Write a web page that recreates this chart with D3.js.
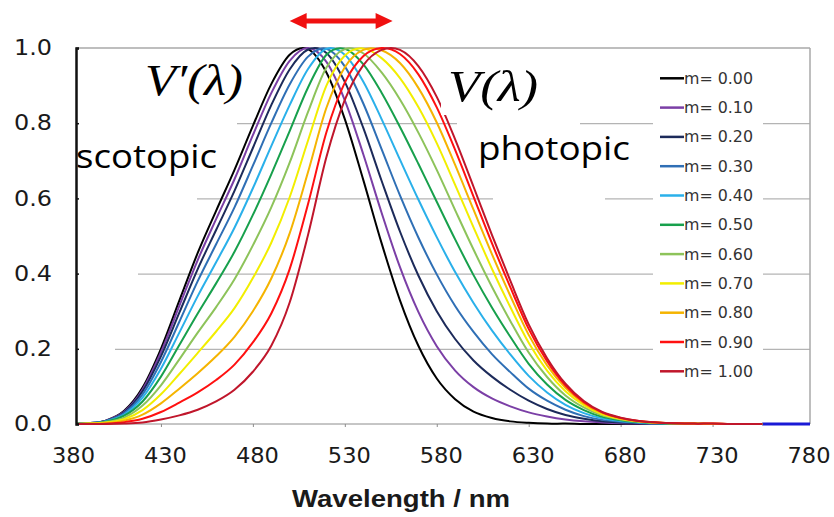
<!DOCTYPE html>
<html>
<head>
<meta charset="utf-8">
<script src="https://cdn.jsdelivr.net/npm/d3@7"></script>
<style>
  body { margin: 0; background: #fff; }
  svg { display: block; }
</style>
</head>
<body>
<div id="chart"></div>
<script>
// wavelengths (nm) of the sampled points
var wavelengths = [380, 390, 400, 410, 420, 430, 440, 450, 460, 470, 480, 490, 500, 510, 520, 530, 540, 550, 560, 570,
  580, 590, 600, 610, 620, 630, 640, 650, 660, 670, 680, 690, 700, 710, 720, 730, 740, 750, 760];

// relative luminous efficiency for each adaptation coefficient m
var m00 = [0.001, 0.002, 0.009, 0.035, 0.097, 0.200, 0.328, 0.455, 0.567, 0.676, 0.793, 0.904, 0.982, 0.997, 0.935, 0.811, 0.650, 0.481, 0.329, 0.208,
  0.121, 0.066, 0.033, 0.016, 0.007, 0.003, 0.001, 0.001, 0, 0, 0, 0, 0, 0, 0, 0, 0, 0, 0];
var m10 = [0.001, 0.002, 0.009, 0.033, 0.092, 0.191, 0.314, 0.436, 0.545, 0.651, 0.768, 0.880, 0.966, 1.000, 0.963, 0.861, 0.718, 0.562, 0.417, 0.298,
  0.207, 0.142, 0.098, 0.068, 0.047, 0.031, 0.020, 0.012, 0.007, 0.004, 0.002, 0.001, 0, 0, 0, 0, 0, 0, 0];
var m20 = [0.001, 0.002, 0.008, 0.031, 0.087, 0.180, 0.296, 0.412, 0.516, 0.620, 0.734, 0.848, 0.943, 0.996, 0.987, 0.910, 0.788, 0.647, 0.512, 0.395,
  0.300, 0.226, 0.169, 0.126, 0.091, 0.062, 0.040, 0.024, 0.014, 0.007, 0.004, 0.002, 0.001, 0, 0, 0, 0, 0, 0];
var m30 = [0.001, 0.002, 0.008, 0.029, 0.079, 0.165, 0.272, 0.380, 0.478, 0.576, 0.687, 0.800, 0.903, 0.977, 0.998, 0.951, 0.853, 0.731, 0.608, 0.496,
  0.398, 0.314, 0.245, 0.186, 0.138, 0.094, 0.062, 0.038, 0.021, 0.011, 0.006, 0.003, 0.001, 0.001, 0, 0, 0, 0, 0];
var m40 = [0.001, 0.002, 0.007, 0.025, 0.070, 0.147, 0.243, 0.340, 0.430, 0.522, 0.627, 0.739, 0.848, 0.944, 0.998, 0.982, 0.911, 0.811, 0.703, 0.597,
  0.497, 0.404, 0.322, 0.249, 0.185, 0.128, 0.084, 0.051, 0.029, 0.015, 0.008, 0.004, 0.002, 0.001, 0, 0, 0, 0, 0];
var m50 = [0.001, 0.001, 0.006, 0.022, 0.060, 0.126, 0.210, 0.294, 0.374, 0.458, 0.556, 0.664, 0.779, 0.895, 0.982, 0.998, 0.957, 0.881, 0.790, 0.692,
  0.591, 0.491, 0.396, 0.310, 0.232, 0.160, 0.105, 0.064, 0.037, 0.019, 0.010, 0.005, 0.002, 0.001, 0.001, 0, 0, 0, 0];
var m60 = [0, 0.001, 0.005, 0.017, 0.049, 0.103, 0.172, 0.243, 0.311, 0.385, 0.475, 0.576, 0.695, 0.830, 0.948, 0.997, 0.986, 0.935, 0.863, 0.775,
  0.676, 0.569, 0.464, 0.365, 0.274, 0.190, 0.125, 0.076, 0.044, 0.023, 0.012, 0.006, 0.003, 0.002, 0.001, 0, 0, 0, 0];
var m70 = [0, 0.001, 0.004, 0.013, 0.037, 0.079, 0.133, 0.189, 0.246, 0.308, 0.388, 0.482, 0.603, 0.754, 0.900, 0.980, 0.999, 0.973, 0.920, 0.843,
  0.747, 0.636, 0.523, 0.413, 0.311, 0.216, 0.142, 0.087, 0.050, 0.026, 0.014, 0.007, 0.003, 0.002, 0.001, 0, 0, 0, 0];
var m80 = [0, 0.001, 0.002, 0.009, 0.025, 0.055, 0.094, 0.135, 0.180, 0.232, 0.300, 0.387, 0.507, 0.670, 0.841, 0.949, 0.995, 0.994, 0.960, 0.894,
  0.802, 0.689, 0.570, 0.452, 0.341, 0.237, 0.156, 0.096, 0.055, 0.029, 0.015, 0.007, 0.004, 0.002, 0.001, 0.001, 0, 0, 0];
var m90 = [0, 0, 0.001, 0.005, 0.014, 0.032, 0.057, 0.084, 0.117, 0.158, 0.217, 0.294, 0.412, 0.585, 0.776, 0.908, 0.978, 1.000, 0.984, 0.930,
  0.842, 0.729, 0.605, 0.481, 0.364, 0.253, 0.167, 0.102, 0.058, 0.031, 0.016, 0.008, 0.004, 0.002, 0.001, 0.001, 0, 0, 0];
var m100 = [0, 0, 0, 0.001, 0.004, 0.012, 0.023, 0.038, 0.060, 0.091, 0.139, 0.208, 0.323, 0.503, 0.710, 0.862, 0.954, 0.995, 0.995, 0.952,
  0.870, 0.757, 0.631, 0.503, 0.381, 0.265, 0.175, 0.107, 0.061, 0.032, 0.017, 0.008, 0.004, 0.002, 0.001, 0.001, 0, 0, 0];

var seriesValues = [m00, m10, m20, m30, m40, m50, m60, m70, m80, m90, m100];
var seriesNames = ["m= 0.00", "m= 0.10", "m= 0.20", "m= 0.30", "m= 0.40", "m= 0.50",
  "m= 0.60", "m= 0.70", "m= 0.80", "m= 0.90", "m= 1.00"];
var seriesColors = ["#000000", "#7b3fa6", "#1c2a5a", "#2f6fb5", "#2ab0ea", "#17a04c",
  "#8dc35a", "#f2ee00", "#f5b400", "#ff1010", "#c0162b"];

var xTicks = [380, 430, 480, 530, 580, 630, 680, 730, 780];
var yTicks = [0, 0.2, 0.4, 0.6, 0.8, 1.0];
var yTickLabels = ["0.0", "0.2", "0.4", "0.6", "0.8", "1.0"];
// peak shift from scotopic to photopic, nm
var peakShift = [500, 556];

var svgWidth = 834, svgHeight = 517;
var plot = { left: 76, right: 810, top: 48, bottom: 424 };

var svg = d3.select("#chart")
  .append("svg")
  .attr("width", svgWidth)
  .attr("height", svgHeight);

var x = d3.scaleLinear().domain([380, 780]).range([69, 804.5]);
var y = d3.scaleLinear().domain([0, 1]).range([plot.bottom, plot.top]);

// gridlines
svg.append("g")
  .attr("transform", `translate(${plot.left},0)`)
  .call(d3.axisLeft(y).tickValues([0.2, 0.4, 0.6, 0.8]).tickSize(-(plot.right - plot.left)).tickFormat(""))
  .call(g => g.select(".domain").remove())
  .call(g => g.selectAll("line").attr("stroke", "#b4b4b4").attr("stroke-width", 1.2));

// white patches where the gridlines are broken in the picture
var gridGaps = [
  { v: 0.8, x0: 76, x1: 237 }, { v: 0.6, x0: 76, x1: 197 },
  { v: 0.4, x0: 76, x1: 138 }, { v: 0.2, x0: 76, x1: 115 },
  { v: 0.8, x0: 457, x1: 580 }, { v: 0.6, x0: 493, x1: 605 }
];
svg.selectAll(".gap")
  .data(gridGaps)
  .enter()
  .append("rect")
  .attr("x", d => d.x0)
  .attr("y", d => y(d.v) - 3)
  .attr("width", d => d.x1 - d.x0)
  .attr("height", 6)
  .attr("fill", "#fff");

// legend background
svg.append("rect")
  .attr("x", 653).attr("y", 60).attr("width", 110).attr("height", 335)
  .attr("fill", "#fff");

// frame
svg.append("line").attr("x1", plot.left).attr("x2", plot.right).attr("y1", plot.top).attr("y2", plot.top)
  .attr("stroke", "#a8a8a8").attr("stroke-width", 1.5);
svg.append("line").attr("x1", plot.right).attr("x2", plot.right).attr("y1", plot.top).attr("y2", plot.bottom)
  .attr("stroke", "#a8a8a8").attr("stroke-width", 1.5);

// x axis
var xAxis = svg.append("g")
  .attr("transform", `translate(0,${plot.bottom})`)
  .call(d3.axisBottom(x).tickValues(xTicks).tickSize(3).tickFormat(d3.format("d")));
xAxis.select(".domain").attr("stroke", "#8c8c8c").attr("d", `M${plot.left},0H${x(757)}`);
xAxis.selectAll(".tick line").attr("stroke", "#8c8c8c");
xAxis.selectAll(".tick").filter(d => d === 380 || d === 780).select("line").remove();
xAxis.selectAll(".tick text")
  .attr("x", 4)
  .attr("y", 23)
  .attr("fill", "#1a1a1a")
  .style("font-family", "DejaVu Sans, Verdana, sans-serif")
  .style("font-size", "22px")
  .attr("textLength", 43)
  .attr("lengthAdjust", "spacingAndGlyphs");

// blue tail on the baseline
svg.append("line")
  .attr("x1", x(757)).attr("x2", plot.right)
  .attr("y1", y(0)).attr("y2", y(0))
  .attr("stroke", "#1a1ad6").attr("stroke-width", 3);

// curves
svg.append("clipPath").attr("id", "clip")
  .append("rect").attr("x", plot.left).attr("y", 0).attr("width", x(757) - plot.left).attr("height", plot.bottom + 2);

var line = d3.line()
  .x((d, i) => x(wavelengths[i]))
  .y(d => y(d))
  .curve(d3.curveCatmullRom.alpha(0));

svg.append("g")
  .attr("clip-path", "url(#clip)")
  .selectAll(".curve")
  .data(seriesValues)
  .enter()
  .append("path")
  .attr("class", "curve")
  .attr("d", d => line(d))
  .attr("fill", "none")
  .attr("stroke", (d, i) => seriesColors[i])
  .attr("stroke-width", 2);

// white box behind V(λ)
svg.append("rect")
  .attr("x", 441).attr("y", 56).attr("width", 104).attr("height", 59)
  .attr("fill", "#fff");

// y axis
var yAxis = svg.append("g")
  .attr("transform", `translate(${plot.left},0)`)
  .call(d3.axisLeft(y).tickValues(yTicks).tickSize(-3).tickPadding(24)
    .tickFormat((d, i) => yTickLabels[i]));
yAxis.select(".domain").attr("stroke", "#111").attr("stroke-width", 2.5);
yAxis.selectAll(".tick line").attr("stroke", "#111").attr("stroke-width", 1.5);
yAxis.selectAll(".tick text")
  .attr("fill", "#1a1a1a")
  .style("font-family", "DejaVu Sans, Verdana, sans-serif")
  .style("font-size", "21px")
  .attr("textLength", 38)
  .attr("lengthAdjust", "spacingAndGlyphs");

// axis title
svg.append("text")
  .attr("x", 401).attr("y", 507)
  .attr("text-anchor", "middle")
  .attr("fill", "#1a1a1a")
  .style("font-family", "Liberation Sans, Arial, sans-serif")
  .style("font-weight", "bold")
  .style("font-size", "23px")
  .attr("textLength", 218)
  .attr("lengthAdjust", "spacingAndGlyphs")
  .text("Wavelength / nm");

// legend
var legend = svg.selectAll(".legendItem")
  .data(seriesNames)
  .enter()
  .append("g")
  .attr("class", "legendItem")
  .attr("transform", (d, i) => `translate(660,${78.3 + i * 29.3})`);
legend.append("line")
  .attr("x1", 0).attr("x2", 24)
  .attr("stroke", (d, i) => seriesColors[i])
  .attr("stroke-width", 2.5);
legend.append("text")
  .attr("x", 24).attr("y", 5.5)
  .attr("fill", "#333")
  .style("font-family", "DejaVu Sans, Verdana, sans-serif")
  .style("font-size", "16px")
  .attr("textLength", 69)
  .attr("lengthAdjust", "spacingAndGlyphs")
  .text(d => d);

// annotations
svg.append("text")
  .attr("x", 145).attr("y", 95)
  .style("font-family", "Liberation Serif, Times New Roman, serif")
  .style("font-style", "italic")
  .style("font-size", "44px")
  .attr("textLength", 98)
  .attr("lengthAdjust", "spacingAndGlyphs")
  .text("V\u2032(\u03bb)");
svg.append("text")
  .attr("x", 448).attr("y", 101)
  .style("font-family", "Liberation Serif, Times New Roman, serif")
  .style("font-style", "italic")
  .style("font-size", "44px")
  .attr("textLength", 90)
  .attr("lengthAdjust", "spacingAndGlyphs")
  .text("V(\u03bb)");
svg.append("text")
  .attr("x", 76).attr("y", 168)
  .style("font-family", "Open Sans, Noto Sans, sans-serif")
  .style("font-size", "32px")
  .attr("textLength", 141)
  .attr("lengthAdjust", "spacingAndGlyphs")
  .text("scotopic");
svg.append("text")
  .attr("x", 478).attr("y", 160)
  .style("font-family", "Open Sans, Noto Sans, sans-serif")
  .style("font-size", "33px")
  .attr("textLength", 152)
  .attr("lengthAdjust", "spacingAndGlyphs")
  .text("photopic");

// red double arrow showing the peak shift
var ax0 = x(peakShift[0]), ax1 = x(peakShift[1]), ay = 21;
svg.append("line")
  .attr("x1", ax0 + 12).attr("x2", ax1 - 12)
  .attr("y1", ay).attr("y2", ay)
  .attr("stroke", "#f01010").attr("stroke-width", 5);
svg.append("path")
  .attr("d", `M${ax0},${ay}L${ax0 + 17},${ay - 8}L${ax0 + 17},${ay + 8}Z M${ax1},${ay}L${ax1 - 17},${ay - 8}L${ax1 - 17},${ay + 8}Z`)
  .attr("fill", "#f01010");
</script>
</body>
</html>
